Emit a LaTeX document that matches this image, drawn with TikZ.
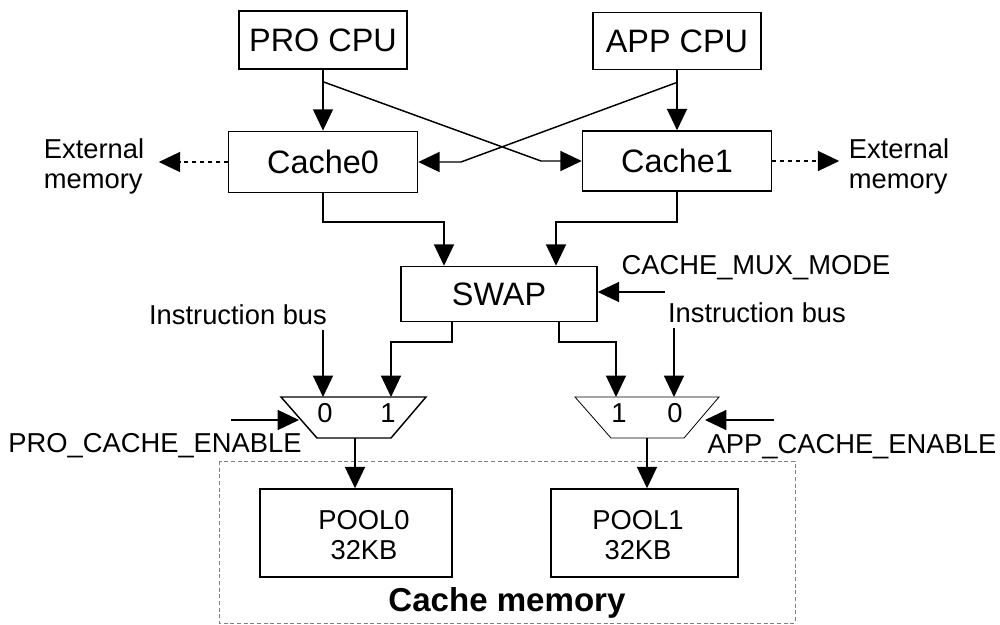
\documentclass[tikz,border=0pt]{standalone}
\usepackage{fontspec}
\setmainfont{Liberation Sans}
\usetikzlibrary{arrows.meta}

\begin{document}
\begin{tikzpicture}[x=0.75pt,y=-0.75pt,line width=1.1pt,
	big/.style={font=\fontsize{24.3}{28}\selectfont},
	small/.style={font=\fontsize{20.5}{22.5}\selectfont},
	box/.style={draw,inner sep=0pt},
	arr/.style={-{Triangle[length=16pt,width=15pt]}},
	dasharr/.style={dashed,-{Triangle[length=16pt,width=15pt]}}]

		\useasboundingbox (0,0) rectangle (1000,625);

		\draw[dash pattern=on 3pt off 2pt,gray,line width=0.6pt] (219,461) rectangle (795,623);

		\node[box,big,minimum width=126pt,minimum height=43.5pt] (PRO) at (323,40) {PRO CPU};
		\node[box,big,minimum width=126pt,minimum height=43pt] (APP) at (677,41) {APP CPU};
		\node[box,big,minimum width=141.75pt,minimum height=46pt] (C0) at (323,162) {Cache0};
		\node[box,big,minimum width=141.75pt,minimum height=45pt] (C1) at (677,161) {Cache1};
		\node[box,big,minimum width=147pt,minimum height=41.25pt] (SWAP) at (499,294) {SWAP};
		\node[box,minimum width=144pt,minimum height=66pt] (P0) at (356,533) {};
		\node[box,minimum width=140pt,minimum height=66pt] (P1) at (644.5,533) {};
		\node[small,align=center] (P0txt) at (364,535) {POOL0\\32KB};
		\node[small,align=center] (P1txt) at (638,535) {POOL1\\32KB};

		\node[small,align=left] (extL) at (94,166) {External\\memory};
		\node[small,align=left] (extR) at (899,166) {External\\memory};
		\node[small] (mode) at (756,268) {CACHE\_MUX\_MODE};
		\node[small] (ibusL) at (238,315) {Instruction bus};
		\node[small] (ibusR) at (757,313) {Instruction bus};
		\node[small] (proen) at (155,446) {PRO\_CACHE\_ENABLE};
		\node[small] (appen) at (852,447) {APP\_CACHE\_ENABLE};
		\node[font=\fontsize{24.8}{28}\selectfont\bfseries] (cmem) at (507,603) {Cache memory};

		% multiplexers
		\draw (281,397) -- (426,397) -- (391,438) -- (317,438) -- cycle;
		\draw[line width=0.6pt] (575,397) -- (719,397) -- (684,438) -- (611,438) -- cycle;
		\node[small] (mL0) at (325,413) {0};
		\node[small] (mL1) at (388,413) {1};
		\node[small] (mR1) at (619,413) {1};
		\node[small] (mR0) at (675,413) {0};

		\coordinate (L0in) at (323,397);
		\coordinate (L1in) at (391,397);
		\coordinate (Lout) at (355,438);
		\coordinate (R1in) at (616,397);
		\coordinate (R0in) at (674,397);
		\coordinate (Rout) at (647,438);
		\coordinate (Len) at (299,420);
		\coordinate (Ren) at (705,420);
		\coordinate (proensrc) at (231,420);
		\coordinate (appensrc) at (774,420);
		\coordinate (modesrc) at (665,292);

		\draw[arr] (PRO.south) -- (C0.north);
		\draw[arr] (APP.south) -- (C1.north);
		\draw[arr] ([yshift=-9pt]PRO.south) -- (541,161) -- (C1.west);
		\draw[arr] ([yshift=-9pt]APP.south) -- (461,162) -- (C0.east);
		\draw[dasharr] (C0.west) -- ++(-69,0);
		\draw[dasharr] (C1.east) -- ++(67,0);

		\draw[arr] (C0.south) |- (444,222) -- (444,0 |- SWAP.north);
		\draw[arr] (C1.south) |- (556,222) -- (556,0 |- SWAP.north);
		\draw[arr] (modesrc) -- (modesrc -| SWAP.east);

		\draw[arr] (452,0 |- SWAP.south) |- (391,342) -- (L1in);
		\draw[arr] (559,0 |- SWAP.south) |- (616,342) -- (R1in);
		\draw[arr] (323,0 |- ibusL.south) -- (L0in);
		\draw[arr] (674,0 |- ibusR.south) -- (R0in);
		\draw[arr] (proensrc) -- (Len);
		\draw[arr] (appensrc) -- (Ren);

		\draw[arr] (Lout) -- (Lout |- P0.north);
		\draw[arr] (Rout) -- (Rout |- P1.north);

	\end{tikzpicture}
\end{document}
